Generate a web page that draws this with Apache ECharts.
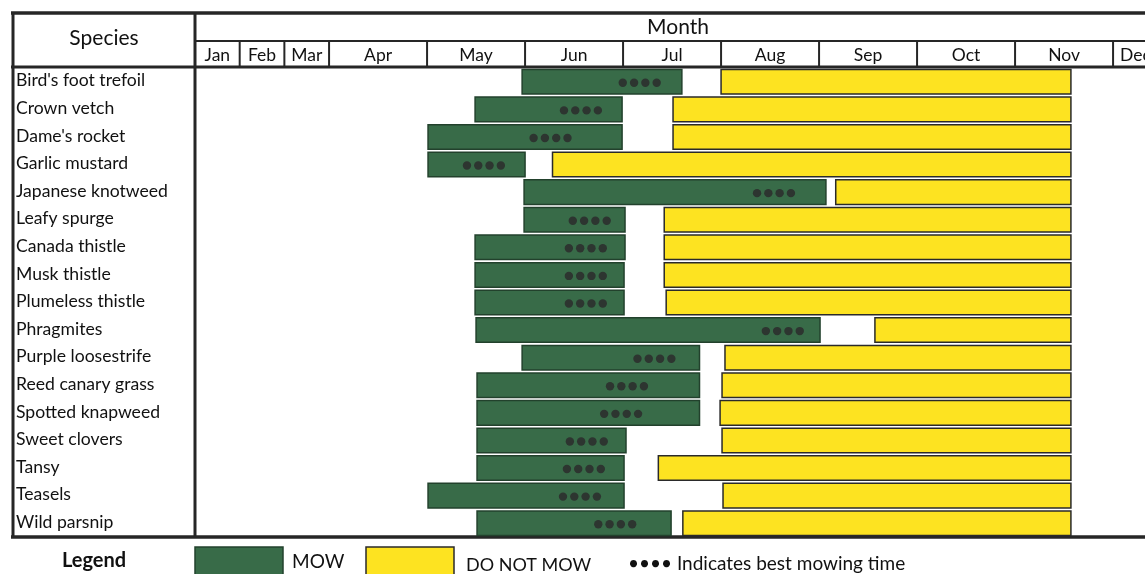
<!DOCTYPE html>
<html>
<head>
<meta charset="utf-8">
<script src="https://cdn.jsdelivr.net/npm/echarts@6/dist/echarts.min.js"></script>
<style>
html,body{margin:0;padding:0;background:#fff;}
#chart{width:1145px;height:574px;}
</style>
</head>
<body>
<div id="chart"></div>
<script>
// ---- Data (months as decimal values: 5.0 = start of May, 6.5 = mid June) ----
const species = ["Bird's foot trefoil","Crown vetch","Dame's rocket","Garlic mustard","Japanese knotweed","Leafy spurge","Canada thistle","Musk thistle","Plumeless thistle","Phragmites","Purple loosestrife","Reed canary grass","Spotted knapweed","Sweet clovers","Tansy","Teasels","Wild parsnip"];
const mowStart   = [5.97,5.49,5.01,5.01,5.99,5.99,5.49,5.49,5.49,5.50,5.97,5.51,5.51,5.51,5.51,5.01,5.51];
const mowEnd     = [7.60,6.99,6.99,6.00,9.07,7.02,7.02,7.01,7.01,9.01,7.78,7.78,7.78,7.03,7.01,7.01,7.49];
const bestMow    = [7.17,6.57,6.26,5.58,8.54,6.66,6.62,6.62,6.62,8.63,7.32,7.04,6.98,6.63,6.60,6.56,6.92];
const noMowStart = [8.00,7.51,7.51,6.28,9.17,7.42,7.42,7.42,7.44,9.57,8.04,8.01,7.99,8.01,7.36,8.02,7.61];
const noMowEnd   = [11.57,11.57,11.57,11.57,11.57,11.57,11.57,11.57,11.57,11.57,11.57,11.57,11.57,11.57,11.57,11.57,11.57];
const monthLabels = ['Jan','Feb','Mar','Apr','May','Jun','Jul','Aug','Sep','Oct','Nov','Dec'];

// Timeline scale: Jan-Mar and Dec are drawn narrow in the original table
const NARROW = 0.456;
function toAxis(m){
  if (m <= 4) return (m - 1) * NARROW;
  if (m <= 12) return 3 * NARROW + (m - 4);
  return 3 * NARROW + 8 + (m - 12) * NARROW;
}
const AXIS_MAX = 950 / 98;

const FONT = 'Lato';
const GREEN = '#386b48', GREEN_BORDER = '#22412c';
const YELLOW = '#fde321', YELLOW_BORDER = '#2a2a2a';
const LINE = '#262626';

const mowData = species.map((s,i)=>[toAxis(mowStart[i]), toAxis(mowEnd[i]), i]);
const noMowData = species.map((s,i)=>[toAxis(noMowStart[i]), toAxis(noMowEnd[i]), i]);
const dotData = species.map((s,i)=>[toAxis(bestMow[i]), i]);
const monthData = monthLabels.map((m,i)=>[toAxis(i+1), toAxis(i+2), 0, m]);

function barRender(fill, stroke){
  return function(params, api){
    const p0 = api.coord([api.value(0), api.value(2)]);
    const p1 = api.coord([api.value(1), api.value(2)]);
    const h = api.size([0,1])[1] * 0.89;
    return {type:'rect', shape:{x:p0[0], y:p0[1]-h/2+1, width:p1[0]-p0[0], height:h},
      style:{fill:fill, stroke:stroke, lineWidth:1.5}};
  };
}

const chart = echarts.init(document.getElementById('chart'), null, {renderer:'canvas'});
chart.setOption({
  animation:false,
  backgroundColor:'#fff',
  grid:[
    {left:195, right:0, top:67, bottom:38},
    {left:195, right:0, top:41, height:26}
  ],
  xAxis:[
    {type:'value', gridIndex:0, min:0, max:AXIS_MAX, show:false},
    {type:'value', gridIndex:1, min:0, max:AXIS_MAX, show:false}
  ],
  yAxis:[
    {type:'category', gridIndex:0, data:species, inverse:true,
     axisLine:{show:false}, axisTick:{show:false}, splitLine:{show:false},
     axisLabel:{align:'left', margin:179, fontFamily:FONT, fontSize:17.6, color:'#111'}},
    {type:'category', gridIndex:1, data:['m'], show:false}
  ],
  series:[
    {type:'custom', name:'MOW', xAxisIndex:0, yAxisIndex:0, data:mowData,
     encode:{x:[0,1], y:2}, renderItem:barRender(GREEN, GREEN_BORDER)},
    {type:'custom', name:'DO NOT MOW', xAxisIndex:0, yAxisIndex:0, data:noMowData,
     encode:{x:[0,1], y:2}, renderItem:barRender(YELLOW, YELLOW_BORDER)},
    {type:'custom', name:'Best mowing time', xAxisIndex:0, yAxisIndex:0, data:dotData,
     encode:{x:0, y:1}, z:5,
     renderItem:function(params, api){
       const c = api.coord([api.value(0), api.value(1)]);
       const children = [];
       for (let k=0;k<4;k++){
         children.push({type:'circle', shape:{cx:c[0] + (k-1.5)*11.3, cy:c[1]+2, r:4.2},
           style:{fill:'#2d3530'}});
       }
       return {type:'group', children:children};
     }},
    {type:'custom', name:'months', xAxisIndex:1, yAxisIndex:1, data:monthData,
     encode:{x:[0,1], y:2},
     renderItem:function(params, api){
       const p0 = api.coord([api.value(0), 0]);
       const p1 = api.coord([api.value(1), 0]);
       const h = api.size([0,1])[1];
       return {type:'group', children:[
         {type:'line', shape:{x1:p0[0], y1:p0[1]-h/2, x2:p0[0], y2:p0[1]+h/2}, style:{stroke:LINE, lineWidth:2}},
         {type:'text', style:{x:(p0[0]+p1[0])/2, y:p0[1]+1, text:monthLabels[params.dataIndex],
           align:'center', verticalAlign:'middle', font:'17.5px '+FONT, fill:'#111'}}
       ]};
     }}
  ],
  graphic:[
    // table frame
    {type:'line', shape:{x1:11, y1:13, x2:1145, y2:13}, style:{stroke:LINE, lineWidth:3.5}},
    {type:'line', shape:{x1:13, y1:12, x2:13, y2:538}, style:{stroke:LINE, lineWidth:3}},
    {type:'line', shape:{x1:195, y1:12, x2:195, y2:538}, style:{stroke:LINE, lineWidth:3}},
    {type:'line', shape:{x1:195, y1:41, x2:1145, y2:41}, style:{stroke:LINE, lineWidth:2}},
    {type:'line', shape:{x1:11, y1:67, x2:1145, y2:67}, style:{stroke:LINE, lineWidth:3}},
    {type:'line', shape:{x1:11, y1:537, x2:1145, y2:537}, style:{stroke:LINE, lineWidth:3.5}},
    {type:'text', style:{x:104, y:38, text:'Species', align:'center', verticalAlign:'middle', font:'21px '+FONT, fill:'#111'}},
    {type:'text', style:{x:678, y:27, text:'Month', align:'center', verticalAlign:'middle', font:'21px '+FONT, fill:'#111'}},
    // legend
    {type:'text', style:{x:94, y:561, text:'Legend', align:'center', verticalAlign:'middle', font:'bold 20px '+FONT, fill:'#111'}},
    {type:'rect', shape:{x:195, y:547, width:88, height:32}, style:{fill:GREEN, stroke:GREEN_BORDER, lineWidth:1.5}},
    {type:'text', style:{x:292, y:562, text:'MOW', verticalAlign:'middle', font:'19px '+FONT, fill:'#111'}},
    {type:'rect', shape:{x:366, y:547, width:88, height:32}, style:{fill:YELLOW, stroke:YELLOW_BORDER, lineWidth:1.5}},
    {type:'text', style:{x:466, y:565, text:'DO NOT MOW', verticalAlign:'middle', font:'18px '+FONT, fill:'#111'}},
    {type:'text', style:{x:628, y:564, text:'•••• Indicates best mowing time', verticalAlign:'middle', font:'19px '+FONT, fill:'#111'}}
  ]
});
</script>
</body>
</html>
